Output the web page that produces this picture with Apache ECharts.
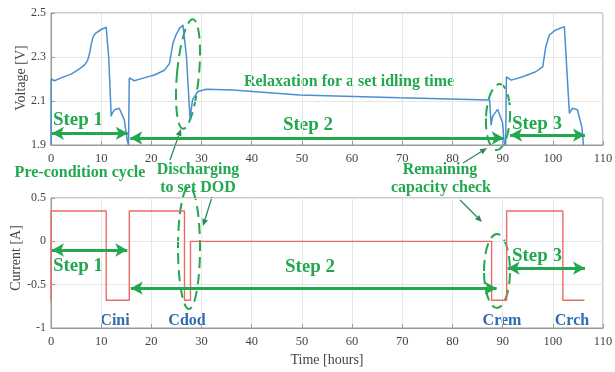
<!DOCTYPE html>
<html>
<head>
<meta charset="utf-8">
<script src="https://cdn.jsdelivr.net/npm/echarts@6/dist/echarts.min.js"></script>
<style>
html, body { margin: 0; padding: 0; background: #fff; }
#chart { width: 615px; height: 372px; }
</style>
</head>
<body>
<div id="chart"></div>
<script>
// voltage trace (top panel)
var voltTime = [0, 0.05, 0.7, 2, 4, 5.3, 6.7, 7.3, 7.7, 8.0, 8.3, 8.6, 9.0, 10.0, 11.0, 11.5, 12.0, 12.2, 12.65, 13.6, 14.6, 15.2, 15.45,
    15.6, 16.6, 18.5, 20.6, 22.6, 23.6, 24.3, 24.9, 25.6, 26.3, 27.0, 27.7, 28.2, 29.2, 30.9, 36.2, 49.5, 69.4, 87.4,
    87.7, 88.0, 89.0, 90.0, 90.3, 90.6, 90.75, 91.7, 94, 96.6, 98.0, 98.6, 99.3, 100.6, 102.3, 103.3, 103.9, 104.9, 105.8, 106.1];
var voltValue = [1.9, 2.2, 2.192, 2.205, 2.222, 2.24, 2.264, 2.285, 2.318, 2.355, 2.386, 2.4, 2.41, 2.425, 2.435, 2.3, 2.03, 2.045, 2.06, 2.067, 2.014, 1.92, 1.9,
    2.205, 2.192, 2.205, 2.218, 2.24, 2.27, 2.362, 2.4, 2.43, 2.445, 2.3, 2.02, 2.105, 2.142, 2.153, 2.15, 2.127, 2.115, 2.105,
    1.99, 2.03, 2.062, 2.0, 1.91, 1.9, 2.21, 2.195, 2.21, 2.233, 2.256, 2.347, 2.4, 2.423, 2.438, 2.044, 2.067, 2.06, 1.98, 1.9];

// current trace (bottom panel)
var currTime = [0, 0, 11.0, 11.0, 15.6, 15.6, 26.6, 26.6, 27.8, 27.8, 87.8, 87.8, 90.8, 90.8, 102.0, 102.0, 106.3];
var currValue = [-0.68, 0.35, 0.35, -0.68, -0.68, 0.35, 0.35, -0.68, -0.68, 0, 0, -0.68, -0.68, 0.35, 0.35, -0.68, -0.68];

// step arrows, [from time, to time, level]
var voltSteps = [[0.2, 15.3, 1.953], [15.8, 90.2, 1.932], [91.5, 106.4, 1.945]];
var currSteps = [[0.2, 15.2, -0.1], [15.9, 88.8, -0.54], [91.0, 106.4, -0.31]];

var green = '#22a84e';
var darkGreen = '#2b8a58';
var blueText = '#2f6cb3';
var serif = 'Liberation Serif';

function pairs(xs, ys) {
    return xs.map(function(x, i) { return [x, ys[i]]; });
}

function stepLines(list) {
    return list.map(function(s) {
        return [{ coord: [s[0], s[2]] }, { coord: [s[1], s[2]] }];
    });
}

function makeX(gridIndex, showName) {
    return {
        type: 'value',
        gridIndex: gridIndex,
        min: 0,
        max: 110,
        interval: 10,
        name: showName ? 'Time [hours]' : '',
        nameLocation: 'middle',
        nameGap: 25,
        nameTextStyle: { fontFamily: serif, fontSize: 14, color: '#444' },
        axisLine: { show: true, onZero: false, lineStyle: { color: '#999' } },
        axisTick: { show: true, inside: true, length: 4, lineStyle: { color: '#999' } },
        axisLabel: { fontFamily: serif, fontSize: 12.5, color: '#444', margin: 7 },
        splitLine: { show: true, lineStyle: { color: '#e6e6e6' } }
    };
}

function makeY(gridIndex, min, max, interval) {
    return {
        type: 'value',
        gridIndex: gridIndex,
        min: min,
        max: max,
        interval: interval,
        axisLine: { show: true, lineStyle: { color: '#999' } },
        axisTick: { show: true, inside: true, length: 4, lineStyle: { color: '#999' } },
        axisLabel: {
            fontFamily: serif, fontSize: 12, color: '#444', margin: 5,
            formatter: function(v) { return String(Math.round(v * 10) / 10); }
        },
        splitLine: { show: true, lineStyle: { color: '#e6e6e6' } }
    };
}

function txt(x, y, s, size, color) {
    return {
        type: 'text', x: x, y: y, silent: true,
        style: {
            text: s, x: 0, y: 0, fill: color || green, align: 'center', verticalAlign: 'middle',
            font: 'bold ' + (size || 16) + 'px "' + serif + '"'
        }
    };
}

// rotated y axis title
function yName(x, y, s) {
    return {
        type: 'text', x: x, y: y, rotation: Math.PI / 2, silent: true,
        style: {
            text: s, x: 0, y: 0, fill: '#444', align: 'center', verticalAlign: 'middle',
            font: '14px "' + serif + '"'
        }
    };
}

function ellipse(cx, cy, rx, ry, rot) {
    return {
        type: 'ellipse', silent: true, x: cx, y: cy, rotation: rot || 0,
        shape: { cx: 0, cy: 0, rx: rx, ry: ry },
        style: { fill: null, stroke: green, lineWidth: 2, lineDash: [11, 6] }
    };
}

// thin pointer with arrowhead at the end
function pointer(x1, y1, x2, y2) {
    var a = Math.atan2(y2 - y1, x2 - x1), L = 7, W = 3;
    var bx = x2 - L * Math.cos(a), by = y2 - L * Math.sin(a);
    return [
        { type: 'line', silent: true, shape: { x1: x1, y1: y1, x2: bx, y2: by },
          style: { stroke: darkGreen, lineWidth: 1.3 } },
        { type: 'polygon', silent: true,
          shape: { points: [[x2, y2], [bx + W * Math.sin(a), by - W * Math.cos(a)], [bx - W * Math.sin(a), by + W * Math.cos(a)]] },
          style: { fill: darkGreen } }
    ];
}

var chart = echarts.init(document.getElementById('chart'));

var graphics = [
    yName(21, 78, 'Voltage [V]'), yName(16, 258, 'Current [A]'),
    txt(78, 120, 'Step 1', 19), txt(308, 125, 'Step 2', 19), txt(537, 124, 'Step 3', 19),
    txt(349, 82, 'Relaxation for a set idling time', 16),
    txt(80, 173, 'Pre-condition cycle', 16),
    txt(198, 170, 'Discharging', 16), txt(198, 188, 'to set DOD', 16),
    txt(440, 170, 'Remaining', 16), txt(441, 188, 'capacity check', 16),
    txt(78, 266, 'Step 1', 19), txt(310, 267, 'Step 2', 19), txt(537, 256, 'Step 3', 19),
    txt(115, 321, 'Cini', 16, blueText), txt(187, 321, 'Cdod', 16, blueText),
    txt(502, 321, 'Crem', 16, blueText), txt(572, 321, 'Crch', 16, blueText),
    ellipse(188, 74, 11, 55, -0.09),
    ellipse(498, 117, 12, 33, -0.05),
    ellipse(189, 248, 11, 61, 0),
    ellipse(497, 271, 13, 37, 0)
].concat(pointer(170, 160, 181, 129), pointer(212, 197, 203, 226),
         pointer(463, 163, 487, 148), pointer(460, 200, 482, 222));

var arrowMark = function(list) {
    return {
        silent: true,
        symbol: ['arrow', 'arrow'],
        symbolSize: [10, 12],
        label: { show: false },
        lineStyle: { color: green, width: 3, type: 'solid' },
        itemStyle: { color: green },
        emphasis: { disabled: true },
        data: stepLines(list)
    };
};

var option = {
    animation: false,
    backgroundColor: '#fff',
    grid: [
        { left: 51, right: 12, top: 13, height: 132, show: true, borderColor: '#999', borderWidth: 1,
          outerBoundsMode: 'none', containLabel: false },
        { left: 51, right: 12, top: 198, height: 130, show: true, borderColor: '#999', borderWidth: 1,
          outerBoundsMode: 'none', containLabel: false }
    ],
    xAxis: [makeX(0, false), makeX(1, true)],
    yAxis: [makeY(0, 1.9, 2.5, 0.2), makeY(1, -1, 0.5, 0.5)],
    series: [
        {
            type: 'line',
            xAxisIndex: 0, yAxisIndex: 0,
            data: pairs(voltTime, voltValue),
            showSymbol: false,
            lineStyle: { color: '#4b8fd2', width: 1.5 },
            itemStyle: { color: '#4b8fd2' },
            markLine: arrowMark(voltSteps)
        },
        {
            type: 'line',
            xAxisIndex: 1, yAxisIndex: 1,
            data: pairs(currTime, currValue),
            showSymbol: false,
            lineStyle: { color: '#ea6a66', width: 1.4 },
            itemStyle: { color: '#ea6a66' },
            markLine: arrowMark(currSteps)
        }
    ],
    graphic: graphics
};

chart.setOption(option);
</script>
</body>
</html>
